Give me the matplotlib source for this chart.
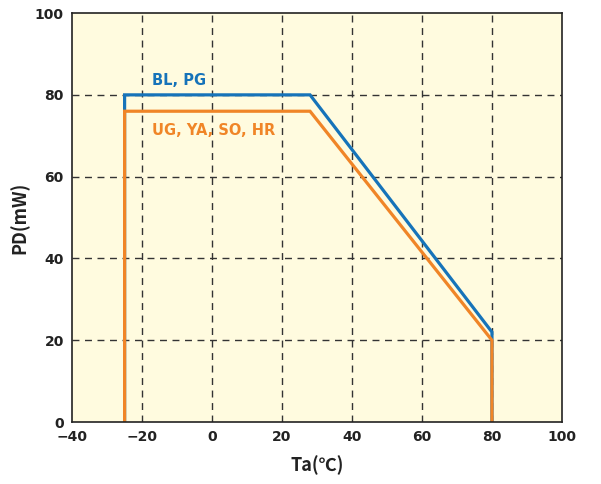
import matplotlib
matplotlib.use('Agg')
import matplotlib.pyplot as plt

plt.rcParams['font.family'] = ['DejaVu Sans']
plt.rcParams['font.weight'] = 'bold'

# derating curves
ta_blue = [-25, -25, 28, 80, 80]
pd_blue = [0, 80, 80, 22, 0]
ta_orange = [-25, -25, 28, 80, 80]
pd_orange = [0, 76, 76, 20, 0]

xticks = [-40, -20, 0, 20, 40, 60, 80, 100]
yticks = [0, 20, 40, 60, 80, 100]

blue = '#1673b9'
orange = '#f08527'

fig = plt.figure(figsize=(6.01, 4.84), dpi=100)
ax = fig.add_axes([0.12, 0.128, 0.815, 0.845])
ax.set_facecolor('#fffbdf')

ax.plot(ta_blue, pd_blue, color=blue, lw=2.3, solid_joinstyle='miter')
ax.plot(ta_orange, pd_orange, color=orange, lw=2.3, solid_joinstyle='miter')

ax.set_xlim(-40, 100)
ax.set_ylim(0, 100)
ax.set_xticks(xticks)
ax.set_yticks(yticks)
ax.set_xticklabels([str(v).replace('-', '\u2212') for v in xticks])
ax.tick_params(length=0, labelsize=10, colors='#222222')
ax.tick_params(axis='x', pad=6)
ax.tick_params(axis='y', pad=6)

for v in xticks[1:-1]:
    ax.axvline(v, color='#333333', lw=1, ls=(0, (5, 4)), zorder=0.5)
for v in yticks[1:-1]:
    ax.axhline(v, color='#333333', lw=1, ls=(0, (5, 4)), zorder=0.5)

for s in ax.spines.values():
    s.set_color('#222222')
    s.set_linewidth(1.2)

ax.text(-17.2, 83.5, 'BL, PG', color=blue, fontsize=10.5, fontweight='bold', va='center')
ax.text(-17.2, 71.3, 'UG, YA, SO, HR', color=orange, fontsize=10.5, fontweight='bold', va='center')

ax.set_xlabel('Ta(\u2103)', fontsize=13, fontweight='bold', color='#222222', labelpad=8,
              family=['Noto Sans CJK JP', 'DejaVu Sans'])
ax.set_ylabel('PD(mW)', fontsize=13, fontweight='bold', color='#222222', labelpad=4,
              family=['Noto Sans CJK JP', 'DejaVu Sans'])

fig.savefig('out.png', dpi=100)
